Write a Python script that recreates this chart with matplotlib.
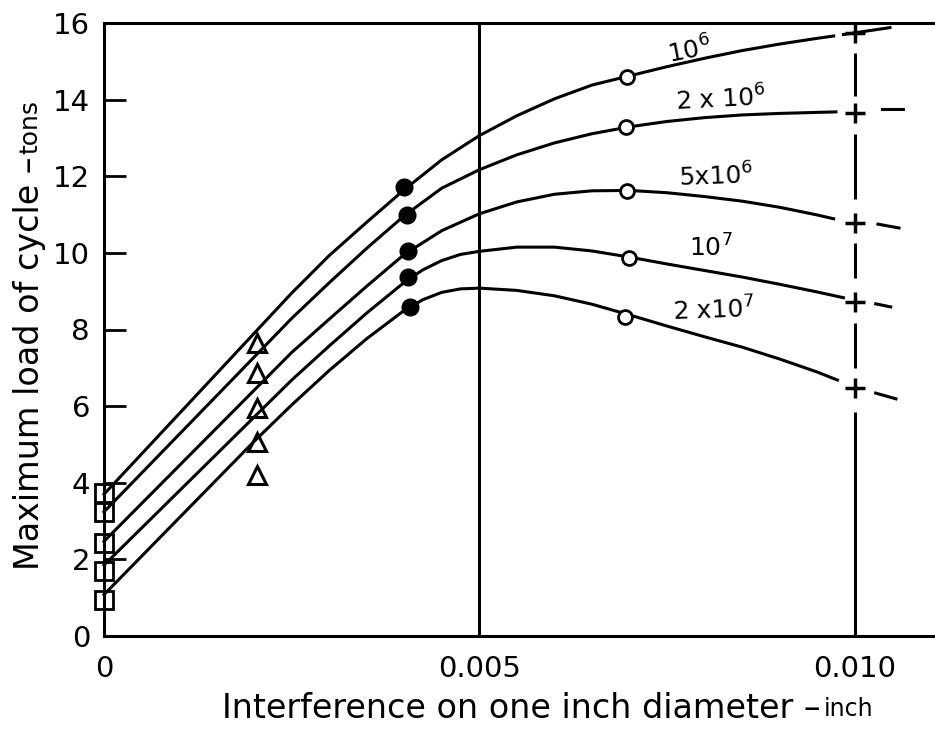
import numpy as np
import matplotlib
matplotlib.use("Agg")
import matplotlib.pyplot as plt

# curves, x in inch, y in tons
x_1e6 = [0, 0.0025, 0.0030, 0.0035, 0.0040, 0.0045, 0.0050, 0.0055, 0.0060, 0.0065, 0.0070, 0.0075, 0.0080, 0.0085, 0.0090, 0.0095, 0.00972]
y_1e6 = [3.70, 8.95, 9.93, 10.80, 11.65, 12.43, 13.06, 13.58, 14.02, 14.38, 14.62, 14.86, 15.08, 15.28, 15.45, 15.60, 15.66]

x_2e6 = [0, 0.0025, 0.0030, 0.0035, 0.0040, 0.0045, 0.0050, 0.0055, 0.0060, 0.0065, 0.0070, 0.0075, 0.0080, 0.0085, 0.0090, 0.00975]
y_2e6 = [3.24, 8.29, 9.22, 10.12, 10.97, 11.69, 12.17, 12.56, 12.87, 13.11, 13.29, 13.43, 13.53, 13.60, 13.64, 13.68]

x_5e6 = [0, 0.0025, 0.0030, 0.0035, 0.0040, 0.0045, 0.0050, 0.0055, 0.0060, 0.0065, 0.0070, 0.0075, 0.0080, 0.0085, 0.0090, 0.0095, 0.00972]
y_5e6 = [2.47, 7.40, 8.27, 9.13, 9.96, 10.58, 11.02, 11.33, 11.53, 11.62, 11.63, 11.57, 11.47, 11.35, 11.19, 10.99, 10.89]

x_1e7 = [0, 0.0025, 0.0030, 0.0035, 0.0040, 0.00425, 0.0045, 0.00475, 0.0050, 0.0055, 0.0060, 0.0065, 0.0070, 0.0075, 0.0080, 0.0085, 0.0090, 0.0095, 0.00985]
y_1e7 = [1.85, 6.68, 7.57, 8.43, 9.23, 9.56, 9.80, 9.96, 10.04, 10.15, 10.15, 10.05, 9.89, 9.71, 9.54, 9.37, 9.18, 8.98, 8.83]

x_2e7 = [0, 0.0020, 0.0025, 0.0030, 0.0035, 0.0040, 0.00425, 0.0045, 0.00475, 0.0050, 0.0055, 0.0060, 0.0065, 0.0070, 0.0075, 0.0080, 0.0085, 0.0090, 0.0095, 0.00977]
y_2e7 = [1.08, 5.08, 6.03, 6.93, 7.76, 8.50, 8.78, 8.97, 9.06, 9.08, 9.02, 8.88, 8.66, 8.38, 8.09, 7.81, 7.54, 7.23, 6.89, 6.68]

curves = [(x_1e6, y_1e6), (x_2e6, y_2e6), (x_5e6, y_5e6), (x_1e7, y_1e7), (x_2e7, y_2e7)]

# test points
sq_x = [0, 0, 0, 0, 0]
sq_y = [3.73, 3.24, 2.43, 1.70, 0.94]
tri_x = [0.00204] * 5
tri_y = [7.65, 6.87, 5.95, 5.07, 4.20]
dot_x = [0.00399, 0.00403, 0.00405, 0.00405, 0.00407]
dot_y = [11.72, 10.99, 10.05, 9.37, 8.59]
ring_x = [0.00697, 0.00696, 0.00697, 0.00699, 0.00694]
ring_y = [14.60, 13.29, 11.62, 9.87, 8.33]
plus_x = [0.0100] * 5
plus_y = [15.74, 13.66, 10.78, 8.72, 6.48]

# short dashes right of the plus marks
dash_x = [(0.00985, 0.01047), (0.01037, 0.01064), (0.01031, 0.01059), (0.01028, 0.01048), (0.01028, 0.01055)]
dash_y = [(15.70, 15.88), (13.76, 13.76), (10.75, 10.65), (8.67, 8.59), (6.34, 6.19)]

# broken vertical line at 0.010
vbreak_lo = [14.09, 11.40, 9.35, 7.00, 0.0]
vbreak_hi = [15.22, 13.10, 10.26, 8.17, 5.85]

labels = ["10$^{\\mathregular{6}}$", "2 x 10$^{\\mathregular{6}}$", "5x10$^{\\mathregular{6}}$",
          "10$^{\\mathregular{7}}$", "2 x10$^{\\mathregular{7}}$"]
label_x = [0.00780, 0.00822, 0.00815, 0.00809, 0.00812]
label_y = [15.28, 14.00, 12.00, 10.12, 8.50]
label_rot = [11, 3, 2, 0, 2]

fig = plt.figure(figsize=(9.35, 7.38), dpi=100)
ax = fig.add_axes([104 / 935, 102 / 738, 1 - 104 / 935, 613 / 738])

for cx, cy in curves:
    ax.plot(cx, cy, color="black", lw=2.2, solid_joinstyle="round", clip_on=False)

for (x0, x1), (y0, y1) in zip(dash_x, dash_y):
    ax.plot([x0, x1], [y0, y1], color="black", lw=2.2)

ax.vlines([0.010] * len(vbreak_lo), vbreak_lo, vbreak_hi, color="black", lw=2.2)
ax.axvline(0.005, color="black", lw=2.2)

ax.plot(sq_x, sq_y, "s", ms=13, mfc="none", mec="black", mew=2.0, clip_on=False)
ax.plot(tri_x, tri_y, "^", ms=13, mfc="none", mec="black", mew=2.2)
ax.plot(dot_x, dot_y, "o", ms=12, color="black")
ax.plot(ring_x, ring_y, "o", ms=10, mfc="white", mec="black", mew=2.0)
ax.plot(plus_x, plus_y, "+", ms=14, mec="black", mew=2.5)

for s, lx, ly, r in zip(labels, label_x, label_y, label_rot):
    ax.text(lx, ly, s, fontsize=18, ha="center", va="center", rotation=r)

ax.set_xlim(0, 0.01107)
ax.set_ylim(0, 16)
ax.set_yticks(np.arange(0, 17, 2))
ax.set_yticklabels([str(v) for v in range(0, 17, 2)])
ax.tick_params(axis="y", direction="in", length=16, width=2, pad=10, labelsize=21)
ax.set_xticks([0, 0.005, 0.010])
ax.set_xticklabels(["0", "0.005", "0.010"])
ax.tick_params(axis="x", length=0, pad=14, labelsize=21)

ax.spines["right"].set_visible(False)
for side in ["left", "bottom", "top"]:
    ax.spines[side].set_linewidth(2.2)

# axis titles with the small unit word
ty = fig.text(0.032, (738 - 570) / 738, "Maximum load of cycle \u2013", rotation=90,
              ha="center", va="bottom", fontsize=24)
ax.annotate("tons", xy=(1, 1), xycoords=ty, xytext=(-3, 2), textcoords="offset points",
            rotation=90, ha="right", va="bottom", fontsize=18, annotation_clip=False)
tx = fig.text(222 / 935, 0.018, "Interference on one inch diameter \u2013",
              ha="left", va="bottom", fontsize=24)
ax.annotate("inch", xy=(1, 0), xycoords=tx, xytext=(2, 3), textcoords="offset points",
            ha="left", va="bottom", fontsize=17, annotation_clip=False)

fig.savefig("out.png", dpi=100)
